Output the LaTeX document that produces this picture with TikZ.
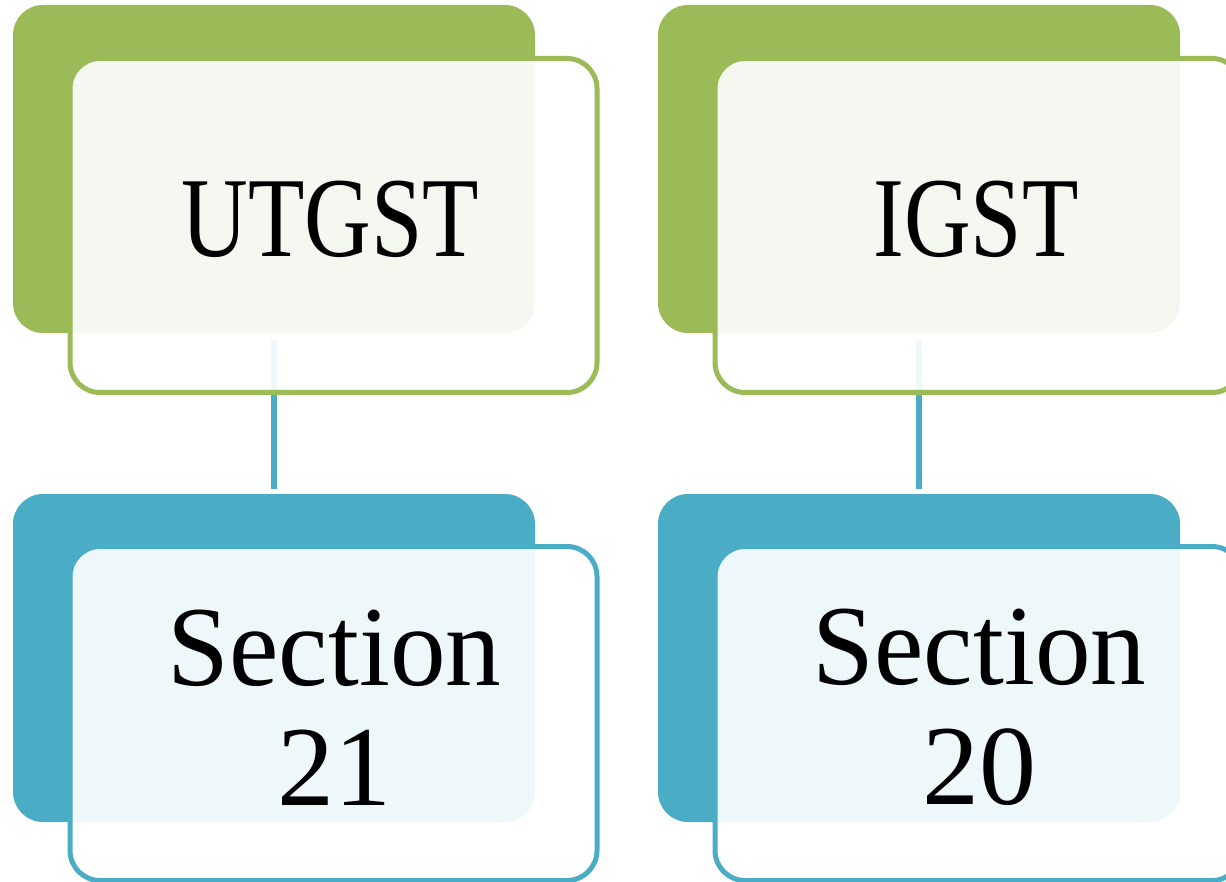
\documentclass[tikz,border=0pt]{standalone}
\usepackage{fontspec}
\usepackage{graphicx}
\setmainfont{Liberation Serif}
\definecolor{sgreen}{HTML}{9BBB59}
\definecolor{sblue}{HTML}{4BACC6}
\tikzset{
  backbox/.style={rectangle, rounded corners=30pt, minimum width=522pt, minimum height=328pt, inner sep=0pt, outer sep=0pt, draw=none},
  frontbox/.style={rectangle, rounded corners=30pt, minimum width=527pt, minimum height=334pt, inner sep=0pt, outer sep=0pt, line width=5pt, fill=white, fill opacity=0.91, draw opacity=1},
  conn/.style={line width=5.5pt, draw=sblue, shorten <=7pt, shorten >=5pt},
  lbl/.style={font=\fontsize{114}{120}\selectfont, align=center, text=black, inner sep=0pt}
}
\begin{document}
\begin{tikzpicture}[x=1pt,y=1pt]
\useasboundingbox (0,0) rectangle (1226,-882);
\clip (0,0) rectangle (1226,-882);
% back boxes
\node[backbox, fill=sgreen] (gb1) at (274,-169) {};
\node[backbox, fill=sblue]  (bb1) at (274,-658) {};
\node[backbox, fill=sgreen] (gb2) at (919,-169) {};
\node[backbox, fill=sblue]  (bb2) at (919,-658) {};
% connectors
\draw[conn] (gb1.south) -- (bb1.north);
\draw[conn] (gb2.south) -- (bb2.north);
% front boxes
\node[frontbox, draw=sgreen] (gf1) at (333.5,-225.5) {};
\node[frontbox, draw=sblue]  (bf1) at (333.5,-713.5) {};
\node[frontbox, draw=sgreen] (gf2) at (978.5,-225.5) {};
\node[frontbox, draw=sblue]  (bf2) at (978.5,-713.5) {};
% labels
\node[lbl] (t1) at ([xshift=-3pt,yshift=6pt]gf1.center) {\scalebox{0.81}[1]{UTGST}};
\node[lbl] (t2) at ([xshift=1pt,yshift=6pt]bf1.center) {\scalebox{0.975}[1]{Section}\\21};
\node[lbl] (t3) at ([xshift=-2.5pt,yshift=6pt]gf2.center) {\scalebox{0.81}[1]{IGST}};
\node[lbl] (t4) at ([xshift=1pt,yshift=6pt]bf2.center) {\scalebox{0.975}[1]{Section}\\20};
\end{tikzpicture}
\end{document}
